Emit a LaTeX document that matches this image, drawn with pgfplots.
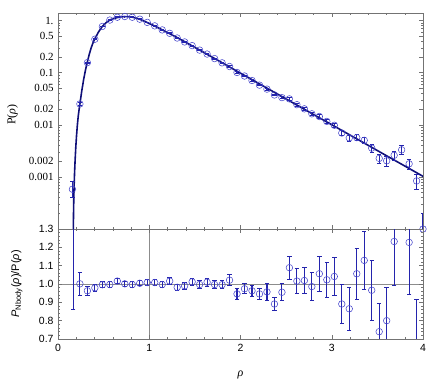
\documentclass[border=0pt]{standalone}
\usepackage{pgfplots}
\pgfplotsset{compat=1.18}
\usepackage{pgfplotstable}
\usepackage{fontspec}
\setmainfont{Liberation Serif}
\setsansfont{Liberation Sans}

\definecolor{fitcol}{rgb}{0.06,0.06,0.47}
\definecolor{markcol}{rgb}{0.28,0.28,0.80}
\definecolor{errcol}{rgb}{0.14,0.14,0.68}
\definecolor{framecol}{rgb}{0.45,0.45,0.45}

% fitted P(rho)
\pgfplotstableread{
x y
0.1665 3.16e-5
0.168 1.0e-4
0.170 1.905e-4
0.173 3.80e-4
0.177 7.08e-4
0.182 1.259e-3
0.188 2.188e-3
0.195 3.715e-3
0.203 6.166e-3
0.212 9.77e-3
0.222 0.01479
0.231 0.0195
0.240 0.02512
0.260 0.04416
0.281 0.07413
0.301 0.1122
0.322 0.1622
0.343 0.2265
0.363 0.2985
0.384 0.3758
0.404 0.4487
0.445 0.6095
0.486 0.7762
0.527 0.912
0.568 1.028
0.609 1.096
0.650 1.143
0.691 1.178
0.732 1.197
0.773 1.189
0.814 1.164
0.855 1.119
0.896 1.062
0.937 0.991
0.978 0.918
1.060 0.787
1.142 0.665
1.224 0.561
1.306 0.472
1.388 0.3936
1.470 0.3273
1.552 0.2723
1.800 0.1549
2.000 0.0980
2.200 0.0621
2.400 0.0394
2.600 0.02495
2.800 0.0158
3.000 0.01004
3.200 0.00636
3.400 0.00403
3.600 0.00255
3.800 0.00162
4.000 0.001026
}\fitdata

% N-body histogram
\pgfplotstableread{
x y ep em
0.158 5.8e-4 2.3e-4 1.8e-4
0.240 0.02515 0.00161 0.00161
0.322 0.1562 0.00406 0.00406
0.404 0.4393 0.00897 0.00897
0.486 0.7731 0.0132 0.0132
0.568 1.025 0.0154 0.0154
0.650 1.161 0.016 0.016
0.732 1.198 0.0168 0.0168
0.814 1.161 0.0163 0.0163
0.896 1.066 0.0149 0.0149
0.978 0.925 0.0138 0.0138
1.060 0.793 0.0118 0.0118
1.142 0.663 0.0106 0.0106
1.224 0.570 0.0095 0.0095
1.306 0.4635 0.0085 0.0085
1.388 0.3897 0.0071 0.0071
1.470 0.3312 0.0062 0.0062
1.552 0.2715 0.0054 0.0054
1.634 0.2282 0.0047 0.0047
1.716 0.1868 0.0041 0.0041
1.798 0.1548 0.0036 0.0036
1.880 0.1316 0.0040 0.0040
1.962 0.1011 0.0030 0.0030
2.044 0.0864 0.00248 0.00248
2.126 0.07086 0.00221 0.00221
2.208 0.05773 0.00195 0.00195
2.290 0.04845 0.00233 0.00233
2.372 0.03742 0.00147 0.00147
2.454 0.03326 0.0016 0.0016
2.536 0.03146 0.00179 0.00179
2.618 0.02435 0.00168 0.00168
2.700 0.02026 0.00143 0.00143
2.782 0.01626 0.00129 0.00129
2.864 0.01445 0.0013 0.0013
2.946 0.01161 0.00108 0.00108
3.028 0.009798 0.000998 0.000998
3.110 0.006957 0.000843 0.000843
3.192 0.005603 0.000751 0.000751
3.274 0.005674 0.000752 0.000752
3.356 0.005032 0.000713 0.000713
3.438 0.003571 0.000603 0.000603
3.520 0.00227 0.000469 0.000469
3.602 0.002035 0.000458 0.000458
3.684 0.0026 0.000506 0.000506
3.766 0.003308 0.000613 0.000613
3.848 0.001782 0.000414 0.000414
3.930 0.000837 0.000265 0.000265
4.000 1.0e-4 1.0e-4 0.9e-4
}\nbody

% ratio N-body / fit
\pgfplotstableread{
x y ep em
0.165 2.0 0.5 1.137
0.240 1.001 0.064 0.064
0.322 0.963 0.025 0.025
0.404 0.979 0.02 0.02
0.486 0.996 0.017 0.017
0.568 0.997 0.015 0.015
0.650 1.016 0.014 0.014
0.732 1.001 0.014 0.014
0.814 0.997 0.014 0.014
0.896 1.004 0.014 0.014
0.978 1.008 0.015 0.015
1.060 1.008 0.015 0.015
1.142 0.997 0.016 0.016
1.224 1.016 0.017 0.017
1.306 0.982 0.018 0.018
1.388 0.990 0.018 0.018
1.470 1.012 0.019 0.019
1.552 0.997 0.02 0.02
1.634 1.010 0.021 0.021
1.716 0.997 0.022 0.022
1.798 0.996 0.023 0.023
1.880 1.021 0.031 0.031
1.962 0.946 0.028 0.028
2.044 0.974 0.028 0.028
2.126 0.963 0.03 0.03
2.208 0.946 0.032 0.032
2.290 0.957 0.046 0.046
2.372 0.891 0.035 0.035
2.454 0.955 0.046 0.046
2.536 1.089 0.062 0.062
2.618 1.016 0.07 0.07
2.700 1.019 0.072 0.072
2.782 0.986 0.078 0.078
2.864 1.056 0.095 0.095
2.946 1.023 0.095 0.095
3.028 1.041 0.106 0.106
3.110 0.891 0.108 0.108
3.192 0.865 0.116 0.116
3.274 1.056 0.14 0.14
3.356 1.129 0.16 0.16
3.438 0.966 0.163 0.163
3.520 0.740 0.153 0.153
3.602 0.800 0.18 0.18
3.684 1.232 0.24 0.24
3.766 1.890 0.35 0.35
3.848 1.227 0.285 0.285
3.930 0.695 0.22 0.22
}\ratio

\pgfplotsset{
  panel/.style={
    scale only axis,
    width=365bp,
    xmin=0, xmax=4,
    xtick={0,1,2,3,4},
    minor x tick num=4,
    tick align=inside,
    major tick length=4bp,
    minor tick length=2bp,
    axis line style={framecol, line width=0.6pt},
    every tick/.style={framecol, line width=0.5pt},
    /pgf/number format/assume math mode=true,
  },
  databars/.style={
    only marks,
    mark=o,
    mark size=3.3bp,
    mark options={markcol, line width=0.55pt},
    error bars/.cd,
      y dir=both, y explicit,
      error bar style={errcol, line width=1.1pt},
      error mark options={rotate=90, errcol, mark size=2.2bp, line width=1pt},
  },
}

\begin{document}
\begin{tikzpicture}
\useasboundingbox (0,0) rectangle (436bp,384bp);

\begin{axis}[
  panel,
  at={(58bp,155bp)}, anchor=south west,
  height=216bp,
  ymode=log,
  ymin=1e-4, ymax=1.4,
  xticklabels={},
  ytick={0.001,0.002,0.01,0.02,0.05,0.1,0.2,0.5,1},
  yticklabels={0.001,0.002,0.01,0.02,0.05,0.1,0.2,0.5,1.},
  minor ytick={2e-4,3e-4,4e-4,5e-4,6e-4,7e-4,8e-4,9e-4,
    0.003,0.004,0.005,0.006,0.007,0.008,0.009,
    0.03,0.04,0.06,0.07,0.08,0.09,0.3,0.4,0.6,0.7,0.8,0.9},
  yticklabel style={font=\fontsize{11}{12}\selectfont, xshift=-1bp},
  ylabel={P(\textit{ρ})},
  every axis y label/.style={at={(axis description cs:-0.125,0.53)},
    rotate=90, anchor=center, font=\fontsize{12}{14}\selectfont},
]
  \addplot[fitcol, line width=1.6pt] table[x=x, y=y] {\fitdata};
  \addplot[databars] table[x=x, y=y, y error plus=ep, y error minus=em] {\nbody};
\end{axis}

\begin{axis}[
  panel,
  at={(58bp,45bp)}, anchor=south west,
  height=110bp,
  ymin=0.7, ymax=1.3,
  ytick={0.7,0.8,0.9,1.0,1.1,1.2,1.3},
  minor y tick num=4,
  tick label style={font=\sffamily\fontsize{10.5}{12}\selectfont},
  yticklabel style={/pgf/number format/fixed, /pgf/number format/fixed zerofill,
    /pgf/number format/precision=1, /tikz/xshift=-1bp},
  xticklabel style={yshift=-2bp},
  extra x ticks={1}, extra x tick labels={},
  extra y ticks={1}, extra y tick labels={},
  extra tick style={grid=major, major grid style={black!45, line width=0.5pt}},
  clip marker paths=true,
  xlabel={\textit{ρ}},
  every axis x label/.style={at={(axis description cs:0.5,0)}, yshift=-36bp,
    anchor=center, font=\fontsize{12}{14}\selectfont},
  ylabel={\textit{P}\textsubscript{Nbody}(\textit{ρ})/P(\textit{ρ})},
  every axis y label/.style={at={(axis description cs:-0.113,0.5)},
    rotate=90, anchor=center, font=\sffamily\fontsize{11}{13}\selectfont},
]
  \addplot[databars] table[x=x, y=y, y error plus=ep, y error minus=em] {\ratio};
\end{axis}
\end{tikzpicture}
\end{document}
